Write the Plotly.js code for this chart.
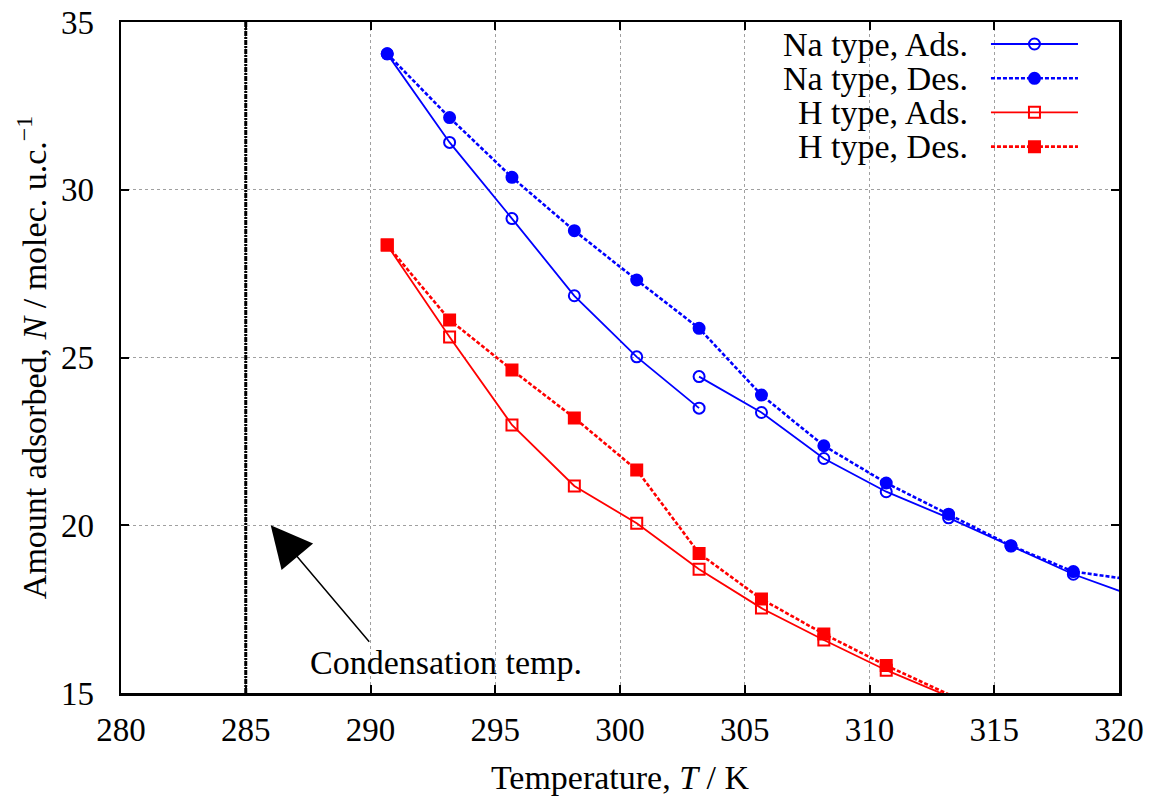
<!DOCTYPE html>
<html>
<head>
<meta charset="utf-8">
<script src="https://cdn.plot.ly/plotly-3.0.1.min.js"></script>
<style>
  html, body { margin: 0; padding: 0; background: #ffffff; }
  #chart { width: 1158px; height: 803px; }
</style>
</head>
<body>
<div id="chart"></div>
<script>
// ---------------- data ----------------
const seriesNames = ["Na type, Ads.", "Na type, Des.", "H type, Ads.", "H type, Des."];

// temperatures (K)
const tempsNaAdsLow  = [290.67, 293.17, 295.67, 298.17, 300.67, 303.17];
const tempsNaAdsHigh = [303.17, 305.67, 308.17, 310.67, 313.17, 315.67, 318.17, 320.67];
const tempsNaDes     = [290.67, 293.17, 295.67, 298.17, 300.67, 303.17, 305.67, 308.17, 310.67, 313.17, 315.67, 318.17, 320.67];
const tempsH         = [290.67, 293.17, 295.67, 298.17, 300.67, 303.17, 305.67, 308.17, 310.67, 313.17];

// amount adsorbed (molec. / u.c.)
const naAdsLow  = [34.05, 31.41, 29.14, 26.84, 25.02, 23.49];
const naAdsHigh = [24.43, 23.36, 21.99, 21.00, 20.22, 19.38, 18.54, 17.87];
const naDes     = [34.05, 32.15, 30.37, 28.78, 27.31, 25.87, 23.88, 22.37, 21.26, 20.33, 19.39, 18.62, 18.36];
const hAds      = [28.35, 25.61, 22.99, 21.17, 20.06, 18.69, 17.53, 16.58, 15.68, 14.90];
const hDes      = [28.35, 26.12, 24.63, 23.20, 21.65, 19.16, 17.80, 16.76, 15.82, 14.96];

const condensationT = 285;
const annotText = "Condensation temp.";

const xTicks = [280, 285, 290, 295, 300, 305, 310, 315, 320];
const yTicks = [15, 20, 25, 30, 35];

// ---------------- styling ----------------
const xRange = [280, 320];
const yRange = [15, 35];
const FONT = 'Liberation Serif';
const BLUE = '#0000ff';
const RED = '#ff0000';
const MSIZE = 11;
const DES_DASH = '4px,2px';

// gnuplot does not draw points outside the range
function sizes(xs, ys) {
  return ys.map((v, i) => (v >= yRange[0] && v <= yRange[1] && xs[i] >= xRange[0] && xs[i] <= xRange[1]) ? MSIZE : 0);
}

const styles = [
  {color: BLUE, symbol: 'circle-open', dash: 'solid', width: 1.8},
  {color: BLUE, symbol: 'circle', dash: DES_DASH, width: 2.6},
  {color: RED, symbol: 'square-open', dash: 'solid', width: 1.8},
  {color: RED, symbol: 'square', dash: DES_DASH, width: 2.6}
];

function trace(xs, ys, st) {
  return {
    x: xs, y: ys, type: 'scatter', mode: 'lines+markers', showlegend: false,
    line: {color: st.color, width: st.width, dash: st.dash},
    marker: {symbol: st.symbol, color: st.color, size: sizes(xs, ys), opacity: 1,
             line: {color: st.color, width: 2}},
    hoverinfo: 'skip'
  };
}

const traces = [
  trace(tempsH, hDes, styles[3]),
  trace(tempsH, hAds, styles[2]),
  trace(tempsNaDes, naDes, styles[1]),
  trace(tempsNaAdsLow, naAdsLow, styles[0]),
  trace(tempsNaAdsHigh, naAdsHigh, styles[0])
];

// ---------------- custom gnuplot-style key (text left, sample right) ----------------
const keyTextX = 0.8507;
const keyLineX = [0.8717, 0.9589];
const keyMarkX = 0.9153;
const keyRowsY = [0.9672, 0.9161, 0.8654, 0.8142];

const annotations = [];
seriesNames.forEach((name, i) => {
  const st = styles[i];
  traces.push({
    x: keyLineX, y: [keyRowsY[i], keyRowsY[i]], xaxis: 'x2', yaxis: 'y2',
    type: 'scatter', mode: 'lines', showlegend: false, hoverinfo: 'skip', cliponaxis: false,
    line: {color: st.color, width: st.width, dash: st.dash}
  });
  traces.push({
    x: [keyMarkX], y: [keyRowsY[i]], xaxis: 'x2', yaxis: 'y2',
    type: 'scatter', mode: 'markers', showlegend: false, hoverinfo: 'skip', cliponaxis: false,
    marker: {symbol: st.symbol, color: st.color, size: MSIZE, opacity: 1, line: {color: st.color, width: 2}}
  });
  annotations.push({
    xref: 'paper', yref: 'paper', x: keyTextX, y: keyRowsY[i],
    xanchor: 'right', yanchor: 'middle', showarrow: false, text: name,
    font: {family: FONT, size: 34, color: '#000'}
  });
});

// arrow + label
annotations.push({
  xref: 'x', yref: 'y', axref: 'x', ayref: 'y',
  x: 286.0, y: 20.0, ax: 290.0, ay: 16.48,
  text: '', showarrow: true, arrowhead: 2, arrowsize: 5.5, arrowwidth: 1.5, arrowcolor: '#000'
});
annotations.push({
  xref: 'x', yref: 'y', x: 287.5, y: 15.92, xanchor: 'left', yanchor: 'middle',
  showarrow: false, text: annotText, font: {family: FONT, size: 34, color: '#000'}
});

const axisCommon = {
  showline: true, linecolor: '#000', linewidth: 2.5, mirror: 'ticks',
  ticks: 'inside', ticklen: 8, tickwidth: 2, tickcolor: '#000',
  showgrid: true, gridcolor: '#a0a0a0', gridwidth: 1, griddash: 'dot',
  zeroline: false, tickfont: {family: FONT, size: 33, color: '#000'}
};

const layout = {
  width: 1158, height: 803,
  margin: {l: 121, r: 39, t: 22, b: 110},
  paper_bgcolor: '#fff', plot_bgcolor: '#fff',
  showlegend: false,
  font: {family: FONT, color: '#000'},
  xaxis: Object.assign({}, axisCommon, {
    range: xRange, tickvals: xTicks, ticktext: xTicks.map(String),
    ticklabelstandoff: 6,
    title: {text: 'Temperature, <i>T</i> / K', font: {family: FONT, size: 34, color: '#000'}, standoff: 18}
  }),
  yaxis: Object.assign({}, axisCommon, {
    range: yRange, tickvals: yTicks, ticktext: yTicks.map(String),
    ticklabelstandoff: 18,
    title: {text: 'Amount adsorbed, <i>N</i> / molec. u.c.<sup>−1</sup>', font: {family: FONT, size: 34, color: '#000'}, standoff: 4}
  }),
  xaxis2: {overlaying: 'x', range: [0, 1], visible: false, fixedrange: true},
  yaxis2: {overlaying: 'y', range: [0, 1], visible: false, fixedrange: true},
  shapes: [{
    type: 'line', xref: 'x', yref: 'paper', x0: condensationT, x1: condensationT, y0: 0, y1: 1,
    line: {color: '#000', width: 3, dash: '5px,1px,2px,1px'}
  }],
  annotations: annotations
};

Plotly.newPlot('chart', traces, layout, {staticPlot: true, displayModeBar: false});
</script>
</body>
</html>
